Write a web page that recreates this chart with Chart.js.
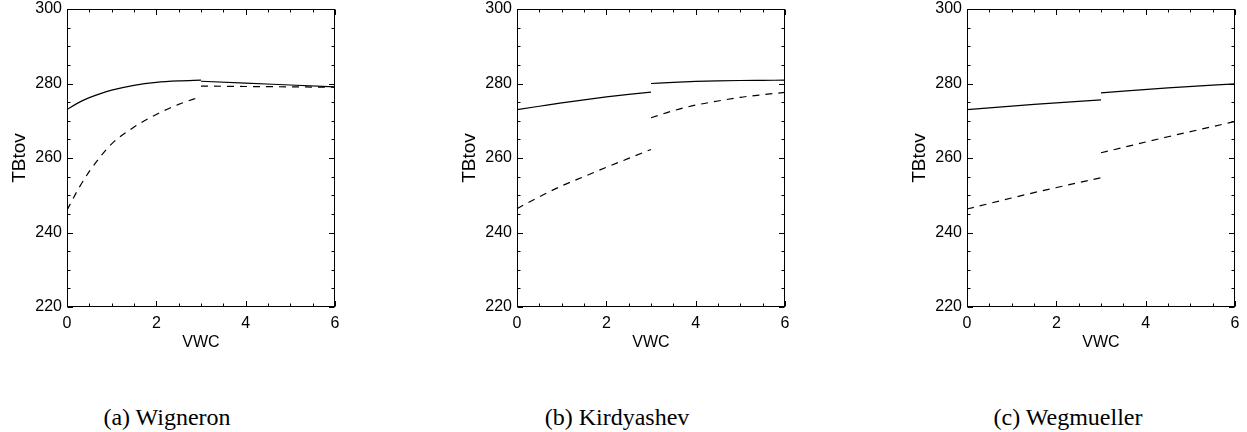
<!DOCTYPE html>
<html>
<head>
<meta charset="utf-8">
<script src="https://cdn.jsdelivr.net/npm/chart.js@4.4.1/dist/chart.umd.min.js"></script>
<style>
    html, body { margin: 0; padding: 0; background: #fff; overflow: hidden; }
    body { width: 1247px; height: 432px; position: relative; }
    canvas { position: absolute; top: 0; }
    .cap {
        position: absolute; top: 405px; line-height: 24px;
        font-family: "Liberation Serif", "Times New Roman", serif;
        font-size: 24px; color: #000; white-space: nowrap;
        transform: translateX(-50%);
    }
</style>
</head>
<body>
<canvas id="chartA" width="345" height="352" style="left:0px"></canvas>
<canvas id="chartB" width="345" height="352" style="left:450px"></canvas>
<canvas id="chartC" width="345" height="352" style="left:900px"></canvas>
<div class="cap" style="left:167px">(a) Wigneron</div>
<div class="cap" style="left:617px">(b) Kirdyashev</div>
<div class="cap" style="left:1068px">(c) Wegmueller</div>

<script>
// axis ticks
const xTickVals = [0, 2, 4, 6];
const yTickVals = [220, 240, 260, 280, 300];

// (a) Wigneron
const wigLowX = [0, 0.25, 0.5, 0.75, 1, 1.5, 2, 2.5, 3];
const wigSolidLow = [273.0, 274.8, 276.2, 277.3, 278.2, 279.5, 280.3, 280.7, 280.9];
const wigDashLow = [246.0, 251.6, 256.4, 260.4, 263.8, 268.3, 271.7, 274.4, 276.5];
const wigHighX = [3, 4, 5, 6];
const wigSolidHigh = [280.6, 280.1, 279.6, 279.1];
const wigDashHigh = [279.3, 279.2, 279.1, 279.0];

// (b) Kirdyashev
const kirLowX = [0, 0.5, 1, 1.5, 2, 2.5, 3];
const kirSolidLow = [273.0, 273.9, 274.8, 275.6, 276.4, 277.1, 277.7];
const kirDashLow = [246.4, 249.6, 252.5, 255.0, 257.5, 259.9, 262.3];
const kirHighX = [3, 3.5, 4, 4.5, 5, 5.5, 6];
const kirSolidHigh = [280.0, 280.3, 280.55, 280.7, 280.8, 280.85, 280.9];
const kirDashHigh = [270.8, 272.7, 274.2, 275.3, 276.3, 277.0, 277.6];

// (c) Wegmueller
const wegLowX = [0, 1.5, 3];
const wegSolidLow = [273.0, 274.4, 275.6];
const wegDashLow = [246.3, 250.7, 254.7];
const wegHighX = [3, 4.5, 6];
const wegSolidHigh = [277.5, 278.8, 279.9];
const wegDashHigh = [261.4, 265.7, 269.8];

const fontFamily = '"Liberation Sans", Arial, Helvetica, sans-serif';
const axisFont = { family: fontFamily, size: 16 };
const yTitleFont = { family: fontFamily, size: 19 };

// box around the plot plus inward IDL-style ticks on all four sides
const frameTicks = {
    id: 'frameTicks',
    afterDatasetsDraw(chart) {
        const { ctx, chartArea: a, scales: { x, y } } = chart;
        ctx.save();
        ctx.strokeStyle = '#000';
        ctx.lineWidth = 1;
        const L = Math.round(a.left) + 0.5, R = Math.round(a.right) - 0.5;
        const T = Math.round(a.top) + 0.5, B = Math.round(a.bottom) - 0.5;
        ctx.strokeRect(L, T, R - L, B - T);
        ctx.beginPath();
        for (let v = 0; v <= 6.001; v += 0.5) {
            const px = Math.round(x.getPixelForValue(v)) + 0.5;
            const len = (v % 2 === 0) ? 5.5 : 3;
            ctx.moveTo(px, B); ctx.lineTo(px, B - len);
            ctx.moveTo(px, T); ctx.lineTo(px, T + len);
        }
        for (let v = 220; v <= 300; v += 5) {
            const py = Math.round(y.getPixelForValue(v)) + 0.5;
            const len = (v % 20 === 0) ? 5.5 : 3;
            ctx.moveTo(L, py); ctx.lineTo(L + len, py);
            ctx.moveTo(R, py); ctx.lineTo(R - len, py);
        }
        ctx.stroke();
        ctx.restore();
    }
};

function toPoints(xs, ys) {
    return xs.map((v, i) => ({ x: v, y: ys[i] }));
}

function lineSet(xs, ys, dashed) {
    return {
        data: toPoints(xs, ys),
        borderColor: '#000',
        borderWidth: 1.2,
        borderDash: dashed ? [7, 6] : [],
        pointRadius: 0,
        fill: false,
        showLine: true,
        cubicInterpolationMode: 'monotone'
    };
}

function makeChart(id, lowX, solidLow, dashLow, highX, solidHigh, dashHigh) {
    const ctx = document.getElementById(id);
    return new Chart(ctx, {
        type: 'scatter',
        data: {
            datasets: [
                lineSet(lowX, solidLow, false),
                lineSet(highX, solidHigh, false),
                lineSet(lowX, dashLow, true),
                lineSet(highX, dashHigh, true)
            ]
        },
        options: {
            responsive: false,
            animation: false,
            devicePixelRatio: 1,
            layout: { padding: { left: 0, right: 10, top: 9, bottom: 0 } },
            plugins: { legend: { display: false }, tooltip: { enabled: false } },
            scales: {
                x: {
                    type: 'linear', min: 0, max: 6,
                    grid: { display: false, drawTicks: false },
                    border: { display: false },
                    ticks: { color: '#000', font: axisFont, padding: 7, maxRotation: 0 },
                    afterBuildTicks: s => { s.ticks = xTickVals.map(v => ({ value: v })); },
                    title: { display: true, text: 'VWC', color: '#000', font: axisFont, padding: { top: 0, bottom: 0 } },
                    afterFit: s => { s.height = 45; s.paddingLeft = 0; s.paddingRight = 0; }
                },
                y: {
                    type: 'linear', min: 220, max: 300,
                    grid: { display: false, drawTicks: false },
                    border: { display: false },
                    ticks: { color: '#000', font: axisFont, padding: 5 },
                    afterBuildTicks: s => { s.ticks = yTickVals.map(v => ({ value: v })); },
                    title: { display: true, text: 'TBtov', color: '#000', font: yTitleFont, padding: { top: 8, bottom: 0 } },
                    afterFit: s => { s.width = 67; s.paddingTop = 0; s.paddingBottom = 0; }
                }
            }
        },
        plugins: [frameTicks]
    });
}

makeChart('chartA', wigLowX, wigSolidLow, wigDashLow, wigHighX, wigSolidHigh, wigDashHigh);
makeChart('chartB', kirLowX, kirSolidLow, kirDashLow, kirHighX, kirSolidHigh, kirDashHigh);
makeChart('chartC', wegLowX, wegSolidLow, wegDashLow, wegHighX, wegSolidHigh, wegDashHigh);
</script>
</body>
</html>
